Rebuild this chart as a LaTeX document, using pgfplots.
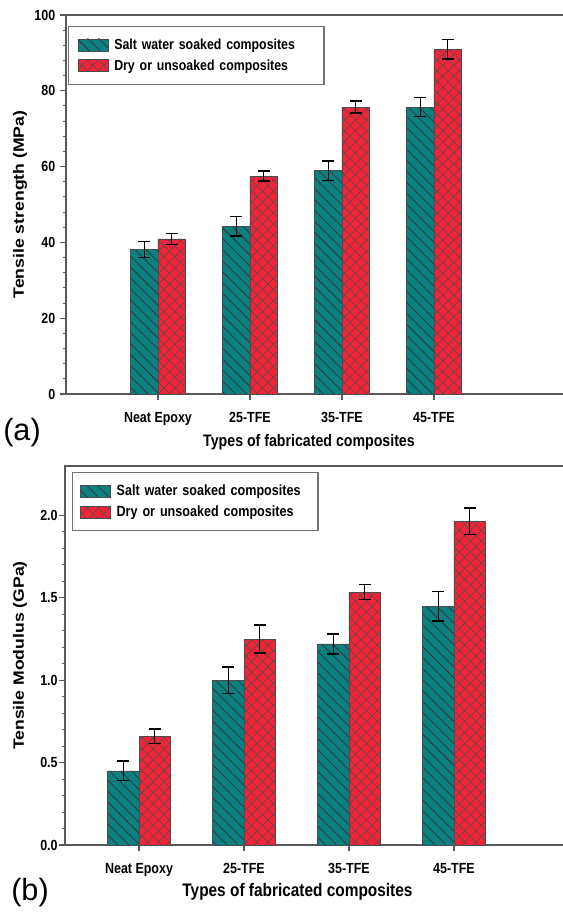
\documentclass[border=0pt]{standalone}
\usepackage{pgfplots}
\pgfplotsset{compat=1.18}
\usepackage{fontspec}
\setmainfont{Liberation Sans}
\newfontfamily\condfont{Liberation Sans}[FakeStretch=0.85]
\newfontfamily\tallfont{Liberation Sans}[FakeStretch=1.18]
\usetikzlibrary{patterns.meta}

\definecolor{soaked}{RGB}{10,128,128}
\definecolor{dry}{RGB}{245,35,55}

\pgfplotsset{
  compbars/.style={
    scale only axis,
    ybar=0pt, bar width=0.3,
    axis line style={draw=black!65, line width=0.9pt},
    tick align=outside, tick pos=left,
    major tick length=4.5pt, minor tick length=2.5pt,
    every tick/.style={black!65, line width=0.8pt},
    xtick={1,2,3,4},
    xticklabels={Neat Epoxy,25-TFE,35-TFE,45-TFE},
    /pgf/number format/assume math mode=true,
    ticklabel style={font=\condfont\bfseries\fontsize{11}{13}\selectfont},
    xticklabel style={yshift=-5.5pt},
    xlabel={Types of fabricated composites},
    legend cell align=left,
    legend style={anchor=north west, draw=black!55, line width=0.9pt,
      inner xsep=6.75pt, inner ysep=6pt,
      nodes={inner xsep=4.5pt, inner ysep=3.1pt, align=left}},
    ylabel style={font=\tallfont\bfseries\fontsize{11.2}{13}\selectfont},
  },
  barimage/.style={legend image code/.code={\draw[##1] (0pt,-4.5pt) rectangle (22.5pt,4.5pt);}},
  errstyle/.style={error bars/.cd, y dir=both, y explicit,
    error bar style={black, line width=1pt},
    error mark options={black, rotate=90, mark size=4.5pt, line width=1pt}},
  soakedbar/.style={fill=soaked, draw=black!70, line width=0.5pt,
    postaction={pattern={Lines[angle=-45,distance=5.8pt,line width=0.55pt]}, pattern color=black!80},
    barimage, errstyle},
  drybar/.style={fill=dry, draw=black!70, line width=0.5pt,
    postaction={pattern={Hatch[angle=45,distance=5.8pt,line width=0.4pt]}, pattern color=black!70},
    barimage, errstyle},
}

\begin{document}
\begin{tikzpicture}
\useasboundingbox (0,0) rectangle (421.5pt,-684.75pt);

% (a) tensile strength
\begin{axis}[compbars,
  at={(49.5pt,-295.5pt)}, anchor=south west,
  width=375pt, height=284.25pt,
  xmin=0, xmax=5.435, ymin=0, ymax=100,
  ytick={0,20,40,60,80,100}, minor y tick num=4,
  ylabel={Tensile strength (MPa)},
  ylabel style={at={(axis description cs:-0.092,0.5)}, anchor=center},
  xlabel style={at={(axis description cs:0.486,-0.1266)}, anchor=center,
    font=\condfont\bfseries\fontsize{12.5}{14}\selectfont},
  legend style={at={(rel axis cs:0.004,0.971)},
    font=\condfont\bfseries\fontsize{10.9}{13}\selectfont,
    nodes={text width=146pt}},
]
\addplot[soakedbar] coordinates {(1,38.2) +- (0,2.1) (2,44.3) +- (0,2.6) (3,58.9) +- (0,2.6) (4,75.7) +- (0,2.5)};
\addlegendentry{Salt water soaked composites}
\addplot[drybar] coordinates {(1,40.9) +- (0,1.5) (2,57.5) +- (0,1.3) (3,75.7) +- (0,1.6) (4,91.0) +- (0,2.6)};
\addlegendentry{Dry or unsoaked composites}
\end{axis}

% (b) tensile modulus
\begin{axis}[compbars,
  at={(48.75pt,-633.75pt)}, anchor=south west,
  width=375.75pt, height=284.25pt,
  xmin=0.295, xmax=5.067, ymin=0, ymax=2.3,
  ytick={0,0.5,1.0,1.5,2.0}, minor y tick num=4,
  yticklabel style={xshift=2.5pt, /pgf/number format/.cd, fixed, fixed zerofill, precision=1},
  ylabel={Tensile Modulus (GPa)},
  ylabel style={at={(axis description cs:-0.0898,0.5)}, anchor=center},
  xlabel style={at={(axis description cs:0.464,-0.124)}, anchor=center,
    font=\condfont\bfseries\fontsize{13.6}{15}\selectfont},
  legend style={at={(rel axis cs:0.014,0.984)}, inner xsep=5.5pt,
    font=\condfont\bfseries\fontsize{11.1}{13}\selectfont,
    nodes={text width=141pt}},
]
\addplot[soakedbar] coordinates {(1,0.45) +- (0,0.06) (2,1.00) +- (0,0.08) (3,1.22) +- (0,0.06) (4,1.45) +- (0,0.09)};
\addlegendentry{Salt water soaked composites}
\addplot[drybar] coordinates {(1,0.66) +- (0,0.045) (2,1.25) +- (0,0.085) (3,1.535) +- (0,0.045) (4,1.965) +- (0,0.08)};
\addlegendentry{Dry or unsoaked composites}
\end{axis}

\node[font=\fontsize{23}{26}\selectfont] at (16.5pt,-324.75pt) {(a)};
\node[font=\fontsize{23}{26}\selectfont] at (22.5pt,-669.75pt) {(b)};
\end{tikzpicture}
\end{document}
